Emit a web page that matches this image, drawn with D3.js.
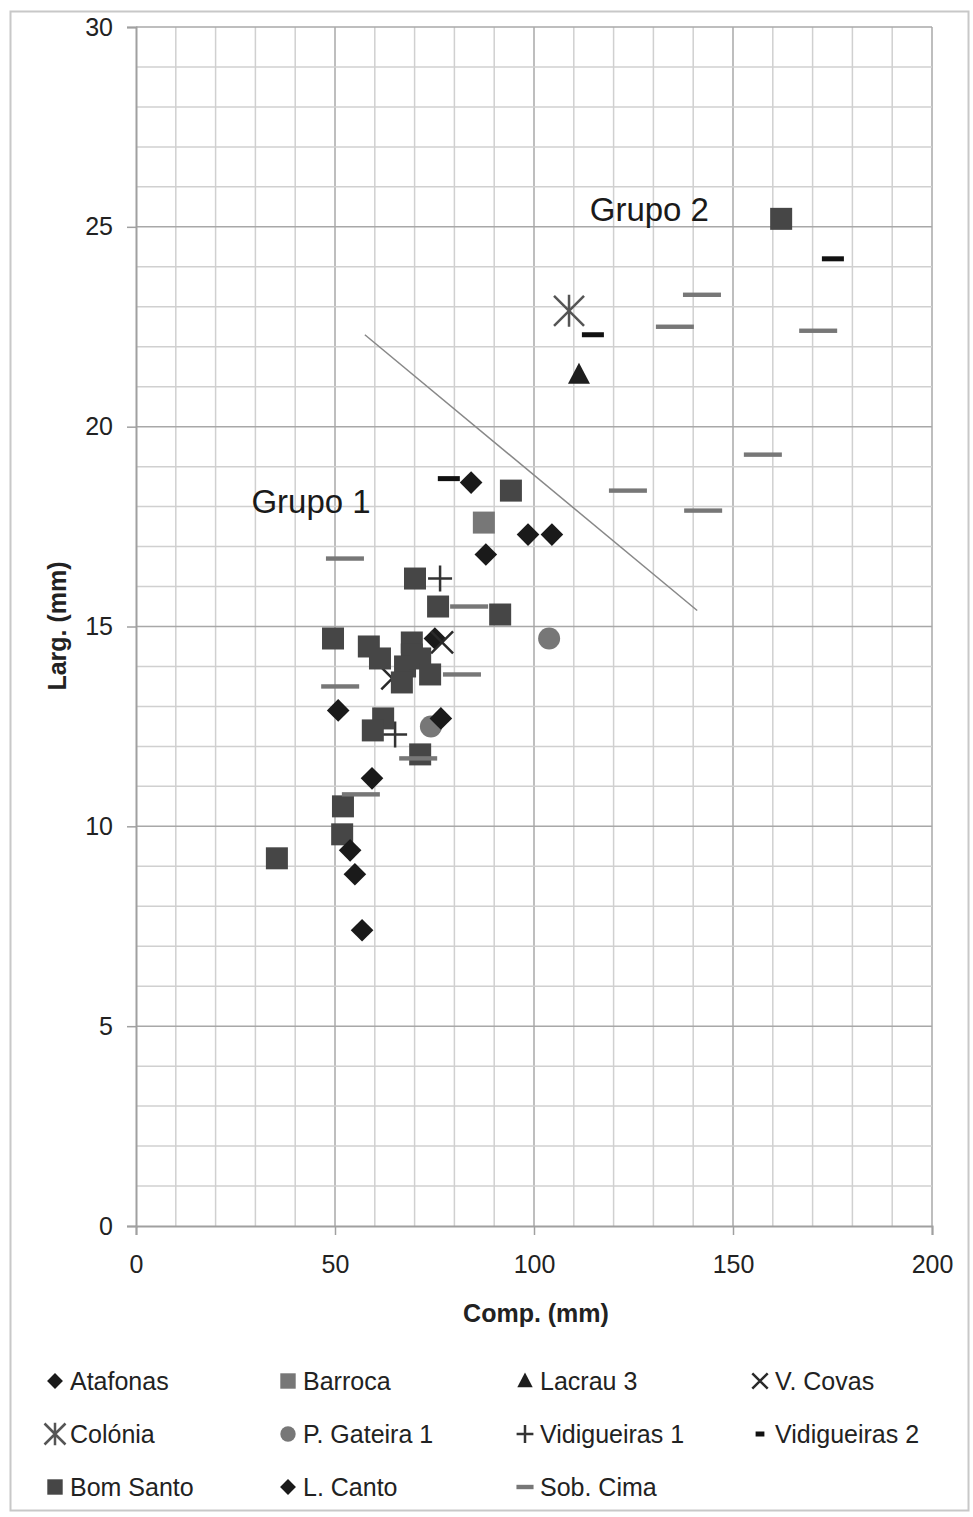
<!DOCTYPE html>
<html><head><meta charset="utf-8">
<script src="https://cdn.jsdelivr.net/npm/d3@7"></script>
<style>body{margin:0;background:#fff;} text{font-family:"Liberation Sans",Arial,sans-serif;}</style>
</head><body><svg id="c" width="973" height="1517"></svg>
<script>
const xTicks = [0, 50, 100, 150, 200];
const yTicks = [0, 5, 10, 15, 20, 25, 30];
const seriesNames = ["Atafonas","Barroca","Lacrau 3","V. Covas","Colónia","P. Gateira 1","Vidigueiras 1","Vidigueiras 2","Bom Santo","L. Canto","Sob. Cima"];
const atafonas = [[84.2,18.6],[98.5,17.3],[104.5,17.3],[87.9,16.8],[75.1,14.7]];
const barroca = [[87.4,17.6]];
const lacrau3 = [[111.3,21.3]];
const vCovas = [[76.9,14.6],[64.4,13.7]];
const colonia = [[108.8,22.9]];
const pGateira1 = [[103.8,14.7],[74.1,12.5]];
const vidigueiras1 = [[76.4,16.2],[65.1,12.3]];
const vidigueiras2 = [[78.6,18.7],[114.8,22.3],[175.1,24.2]];
const bomSanto = [[162.1,25.2],[94.2,18.4],[70.1,16.2],[75.9,15.5],[91.5,15.3],[49.5,14.7],[58.5,14.5],[61.3,14.2],
  [69.3,14.6],[69.3,14.3],[67.6,14.0],[71.4,14.2],[73.9,13.8],[66.8,13.6],[62.1,12.7],[59.5,12.4],[71.4,11.8],[52.0,10.5],[51.8,9.8],[35.4,9.2]];
const lCanto = [[50.8,12.9],[76.6,12.7],[59.3,11.2],[53.8,9.4],[55.0,8.8],[56.8,7.4]];
const sobCima = [[52.5,16.7],[51.3,13.5],[56.5,10.8],[70.9,11.7],[83.7,15.5],[81.9,13.8],[123.6,18.4],[142.5,17.9],[157.5,19.3],[135.4,22.5],[142.2,23.3],[171.4,22.4]];
const divider = [[57.5,22.3],[141.0,15.4]];
const groupLabels = [["Grupo 1",29.0,17.85],["Grupo 2",114.0,25.15]];

const svg = d3.select("#c");
const x = d3.scaleLinear().domain([0,200]).range([136,932]);
const y = d3.scaleLinear().domain([0,30]).range([1226,27]);

// outer frame
svg.append("rect").attr("x",10.5).attr("y",11.5).attr("width",958).attr("height",1499)
  .attr("fill","none").attr("stroke","#c8c8c8").attr("stroke-width",2);

// grid
const g = svg.append("g");
d3.range(10,201,10).forEach(v=>{
  g.append("line").attr("x1",x(v)).attr("x2",x(v)).attr("y1",y(0)).attr("y2",y(30))
   .attr("stroke", v%50===0 ? "#a8a8a8" : "#d0d0d0").attr("stroke-width",1.5);
});
d3.range(1,31,1).forEach(v=>{
  g.append("line").attr("x1",x(0)).attr("x2",x(200)).attr("y1",y(v)).attr("y2",y(v))
   .attr("stroke", v%5===0 ? "#a8a8a8" : "#d0d0d0").attr("stroke-width",1.5);
});

// axes
const xAxis = svg.append("g").attr("transform",`translate(0,${y(0)})`)
  .call(d3.axisBottom(x).tickValues(xTicks).tickSize(9).tickPadding(20).tickFormat(d3.format("d")));
const yAxis = svg.append("g").attr("transform",`translate(${x(0)},0)`)
  .call(d3.axisLeft(y).tickValues(yTicks).tickSize(9).tickPadding(14).tickFormat(d3.format("d")));
[xAxis,yAxis].forEach(a=>{
  a.select(".domain").attr("stroke","#a0a0a0").attr("stroke-width",2);
  a.selectAll(".tick line").attr("stroke","#a0a0a0").attr("stroke-width",1.5);
  a.selectAll("text").attr("font-size",25).attr("fill","#222").attr("font-family","Liberation Sans, Arial, sans-serif");
});

svg.append("text").attr("x",536).attr("y",1322).attr("text-anchor","middle")
  .attr("font-size",25).attr("font-weight","bold").attr("fill","#222").text("Comp. (mm)");
svg.append("text").attr("transform","translate(66,626) rotate(-90)").attr("text-anchor","middle")
  .attr("font-size",25).attr("font-weight","bold").attr("fill","#222").text("Larg. (mm)");

// divider line
svg.append("line").attr("x1",x(divider[0][0])).attr("y1",y(divider[0][1]))
  .attr("x2",x(divider[1][0])).attr("y2",y(divider[1][1])).attr("stroke","#888").attr("stroke-width",1.5);

groupLabels.forEach(([t,gx,gy])=>{
  svg.append("text").attr("x",x(gx)).attr("y",y(gy)).attr("font-size",33).attr("fill","#1a1a1a").text(t);
});

// marker drawers
function marker(sel, type, s){
  const k = s||1;
  switch(type){
    case "diamond": sel.append("rect").attr("x",-8*k).attr("y",-8*k).attr("width",16*k).attr("height",16*k)
        .attr("transform","rotate(45)").attr("fill","#1a1a1a"); break;
    case "squareL": sel.append("rect").attr("x",-11*k).attr("y",-11*k).attr("width",22*k).attr("height",22*k).attr("fill","#777"); break;
    case "squareD": sel.append("rect").attr("x",-11*k).attr("y",-11*k).attr("width",22*k).attr("height",22*k).attr("fill","#464646"); break;
    case "triangle": sel.append("path").attr("d",`M0,${-12*k}L${11*k},${9*k}L${-11*k},${9*k}Z`).attr("fill","#1e1e1e"); break;
    case "x": sel.append("path").attr("d",`M${-11*k},${-11*k}L${11*k},${11*k}M${11*k},${-11*k}L${-11*k},${11*k}`)
        .attr("stroke","#2a2a2a").attr("stroke-width",2.5).attr("fill","none"); break;
    case "star": sel.append("path").attr("d",`M${-15*k},${-15*k}L${15*k},${15*k}M${15*k},${-15*k}L${-15*k},${15*k}M0,${-16*k}L0,${16*k}`)
        .attr("stroke","#555").attr("stroke-width",2.5).attr("fill","none"); break;
    case "circle": sel.append("circle").attr("r",11*k).attr("fill","#777"); break;
    case "plus": sel.append("path").attr("d",`M${-12*k},0L${12*k},0M0,${-13*k}L0,${13*k}`)
        .attr("stroke","#333").attr("stroke-width",2.5).attr("fill","none"); break;
    case "dashB": sel.append("rect").attr("x",-11*k).attr("y",-2.5).attr("width",22*k).attr("height",5).attr("fill","#111"); break;
    case "dashG": sel.append("rect").attr("x",-19*k).attr("y",-2.2).attr("width",38*k).attr("height",4.4).attr("fill","#777"); break;
  }
}

const series = [
  [atafonas,"diamond"],[barroca,"squareL"],[lacrau3,"triangle"],[vCovas,"x"],[colonia,"star"],
  [pGateira1,"circle"],[vidigueiras1,"plus"],[vidigueiras2,"dashB"],[bomSanto,"squareD"],[lCanto,"diamond"],[sobCima,"dashG"]
];
const pts = svg.append("g");
series.forEach(([data,type])=>{
  data.forEach(d=>{
    const m = pts.append("g").attr("transform",`translate(${x(d[0])},${y(d[1])})`);
    marker(m,type,1);
  });
});

// legend
const legCols = [55,288,525,760];
const legRows = [1381,1434,1487];
const legendShapes = ["diamond","squareL","triangle","x","star","circle","plus","dashB","squareD","diamond","dashG"];
const leg = svg.append("g");
seriesNames.forEach((n,i)=>{
  const cx = legCols[i%4], cy = legRows[Math.floor(i/4)];
  const m = leg.append("g").attr("transform",`translate(${cx},${cy})`);
  const t = legendShapes[i];
  const sc = (t==="dashG") ? 0.45 : (t==="dashB" ? 0.4 : 0.7);
  marker(m,t,sc);
  leg.append("text").attr("x",cx+15).attr("y",cy+9).attr("font-size",25).attr("fill","#222").text(n);
});
</script></body></html>
